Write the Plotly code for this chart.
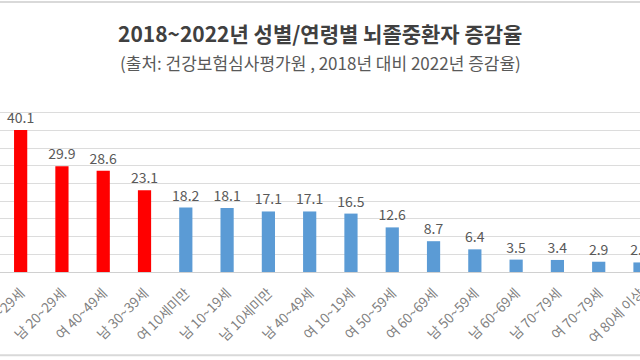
import plotly.graph_objects as go

categories = ["여 20~29세", "남 20~29세", "여 40~49세", "남 30~39세", "여 10세미만",
              "남 10~19세", "남 10세미만", "남 40~49세", "여 10~19세", "여 50~59세",
              "여 60~69세", "남 50~59세", "남 60~69세", "남 70~79세", "여 70~79세",
              "여 80세 이상"]
values = [40.1, 29.9, 28.6, 23.1, 18.2, 18.1, 17.1, 17.1, 16.5, 12.6,
          8.7, 6.4, 3.5, 3.4, 2.9, 2.7]
highlight_count = 4

RED = "#FF0000"
BLUE = "#5B9BD5"
colors = [RED if i < highlight_count else BLUE for i in range(len(values))]
FONT = "Noto Sans CJK KR"

fig = go.Figure(go.Bar(
    x=categories, y=values,
    marker=dict(color=colors, line=dict(width=0)),
    width=0.32,
    text=[f"{v:.1f}" for v in values],
    textposition="outside",
    constraintext="none",
    textfont=dict(size=14, color="#595959", family=FONT),
    cliponaxis=False,
    hoverinfo="skip",
))

fig.update_layout(
    width=640, height=360,
    margin=dict(l=0, r=0, t=95, b=88),
    paper_bgcolor="white", plot_bgcolor="white",
    showlegend=False,
    font=dict(family=FONT, color="#595959"),
    xaxis=dict(
        range=[-0.5, 15.0], tickangle=-45,
        tickfont=dict(size=13.5, color="#808080", family=FONT),
        ticklabelstandoff=7,
        showline=True, linecolor="#d0d0d0", linewidth=1,
        showgrid=False, ticks="", automargin=False,
    ),
    yaxis=dict(
        range=[0, 50], dtick=5, showticklabels=False,
        showgrid=True, gridcolor="#dcdcdc", gridwidth=1,
        zeroline=False, automargin=False,
    ),
    annotations=[
        dict(text="<b>2018~2022년 성별/연령별 뇌졸중환자 증감율</b>",
             xref="paper", yref="paper", x=0.5, y=1.35,
             xanchor="center", yanchor="middle", showarrow=False,
             font=dict(size=21, color="#404040", family=FONT)),
        dict(text="(출처: 건강보험심사평가원 , 2018년 대비 2022년 증감율)",
             xref="paper", yref="paper", x=0.5, y=1.185,
             xanchor="center", yanchor="middle", showarrow=False,
             font=dict(size=17, color="#595959", family=FONT)),
    ],
    shapes=[
        dict(type="line", xref="paper", yref="paper", x0=0, x1=1, y0=1.525, y1=1.525,
             line=dict(color="#d9d9d9", width=2)),
        dict(type="line", xref="paper", yref="paper", x0=0, x1=1, y0=-0.47, y1=-0.47,
             line=dict(color="#d9d9d9", width=2)),
    ],
)

fig.write_html("out.html", config={"displayModeBar": False},
               post_script="document.body.style.margin='0px';")
